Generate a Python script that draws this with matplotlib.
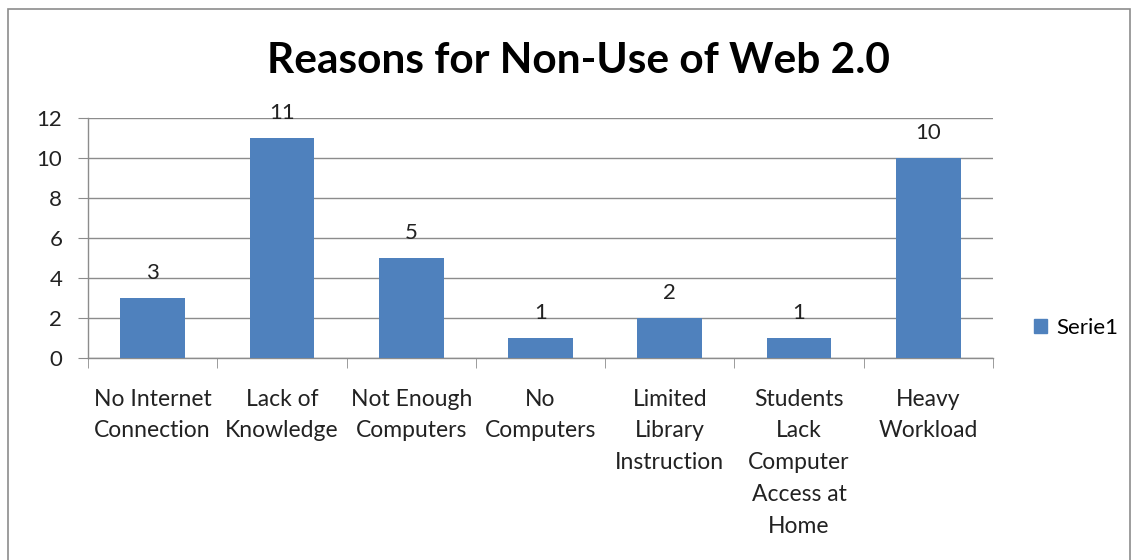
import matplotlib
matplotlib.use("Agg")
import matplotlib.pyplot as plt
from matplotlib.patches import Rectangle, Patch

categories = ["No Internet\nConnection", "Lack of\nKnowledge", "Not Enough\nComputers",
              "No\nComputers", "Limited\nLibrary\nInstruction",
              "Students\nLack\nComputer\nAccess at\nHome", "Heavy\nWorkload"]
values = [3, 11, 5, 1, 2, 1, 10]
yticks = [0, 2, 4, 6, 8, 10, 12]
series_name = "Serie1"
title = "Reasons for Non-Use of Web 2.0"

plt.rcParams['font.family'] = ['Lato', 'DejaVu Sans']
W, H = 1135, 560
fig = plt.figure(figsize=(W / 100, H / 100), dpi=100)
fig.patch.set_facecolor("white")

# outer border
fig.add_artist(Rectangle((8 / W, -0.02), (1130 - 8) / W, 1 - 9 / H + 0.02,
                         transform=fig.transFigure, fill=False,
                         edgecolor="#8c8c8c", linewidth=1.2))

ax = fig.add_axes([88 / W, 1 - 358 / H, (993 - 88) / W, (358 - 118) / H])
bar_color = "#4F81BD"
x = list(range(len(values)))
bars = ax.bar(x, values, width=0.5, color=bar_color, zorder=3, label=series_name)
ax.set_xlim(-0.5, len(values) - 0.5)
ax.set_ylim(0, 12)
ax.set_yticks(yticks)
ax.set_yticklabels([str(t) for t in yticks], fontsize=16, color="#222222")
ax.grid(axis="y", color="#8c8c8c", linewidth=1.0, zorder=0)
for s in ["top", "right"]:
    ax.spines[s].set_visible(False)
for s in ["left", "bottom"]:
    ax.spines[s].set_color("#8c8c8c")
    ax.spines[s].set_linewidth(1.0)
ax.tick_params(axis="y", length=7.5, color="#8c8c8c", pad=11)
ax.set_xticks(x)
ax.set_xticklabels(categories, fontsize=16.5, color="#222222", linespacing=1.64)
ax.tick_params(axis="x", length=0, pad=22)
# category boundary ticks
ax.set_xticks([i - 0.5 for i in range(len(values) + 1)], minor=True)
ax.tick_params(axis="x", which="minor", length=7, color="#8c8c8c")
for b, v in zip(bars, values):
    ax.annotate(str(v), (b.get_x() + b.get_width() / 2, v), xytext=(0, 11),
                textcoords="offset points", ha="center", va="bottom",
                fontsize=16, color="#222222", zorder=5)

fig.text(578 / W, 1 - 61 / H, title, ha="center", va="center",
         fontsize=30.5, fontweight="bold", color="black")

leg = fig.legend(handles=[Patch(color=bar_color, label=series_name)],
                 loc="center left", bbox_to_anchor=(1014 / W, 1 - 328 / H),
                 frameon=False, fontsize=16, handlelength=0.6, handleheight=0.6,
                 handletextpad=0.4)
fig.savefig("out.png", dpi=100, facecolor="white")
